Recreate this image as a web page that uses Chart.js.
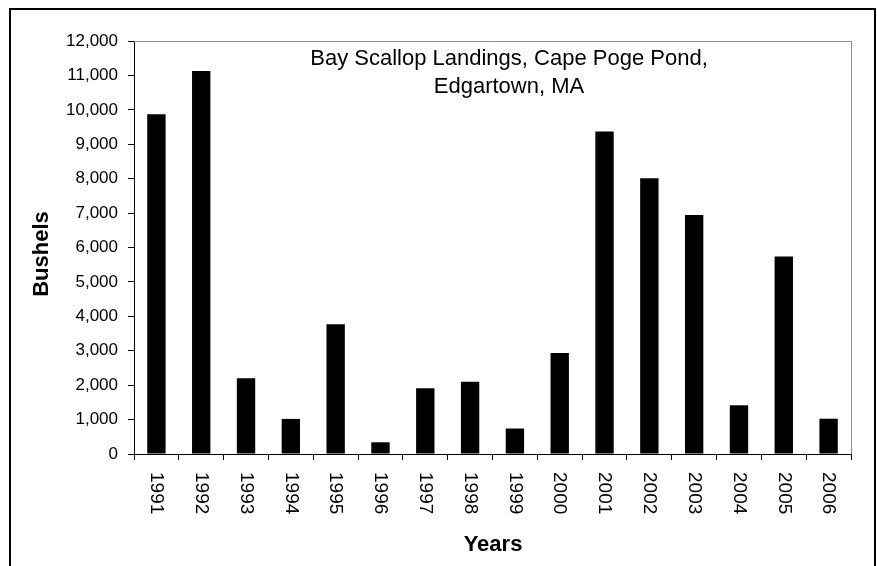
<!DOCTYPE html>
<html>
<head>
<meta charset="utf-8">
<script src="https://cdn.jsdelivr.net/npm/chart.js@4/dist/chart.umd.min.js"></script>
<style>
  html, body { margin: 0; padding: 0; background: #fff; }
  #wrap { width: 877px; height: 566px; position: relative; }
</style>
</head>
<body>
<div id="wrap"><canvas id="c" width="877" height="566"></canvas></div>
<script>
const years = ["1991","1992","1993","1994","1995","1996","1997","1998","1999","2000","2001","2002","2003","2004","2005","2006"];
const bushels = [9870, 11130, 2200, 1020, 3770, 340, 1910, 2100, 740, 2935, 9370, 8010, 6945, 1415, 5735, 1025];
const titleLines = ["Bay Scallop Landings, Cape Poge Pond,", "Edgartown, MA"];
const yTitle = "Bushels";
const xTitle = "Years";

const FONT = "'Liberation Sans', Arial, sans-serif";

const decor = {
  id: 'decor',
  afterDraw(chart) {
    const ctx = chart.ctx;
    const a = chart.chartArea;
    const xs = chart.scales.x;
    ctx.save();
    // plot area top/right border (gray)
    ctx.strokeStyle = '#8c8c8c';
    ctx.lineWidth = 1;
    ctx.beginPath();
    ctx.moveTo(a.left, a.top + 0.5);
    ctx.lineTo(a.right + 0.5, a.top + 0.5);
    ctx.lineTo(a.right + 0.5, a.bottom);
    ctx.stroke();
    // outer frame
    ctx.strokeStyle = '#000';
    ctx.lineWidth = 2;
    ctx.strokeRect(10, 9, 865, 620);
    // title
    ctx.fillStyle = '#000';
    ctx.font = "22px " + FONT;
    ctx.textAlign = 'center';
    ctx.textBaseline = 'alphabetic';
    ctx.fillText(titleLines[0], 509, 65);
    ctx.fillText(titleLines[1], 509, 93);
    // x title
    ctx.font = "bold 22px " + FONT;
    ctx.fillText(xTitle, 493, 551);
    // y title
    ctx.save();
    ctx.translate(42, 254);
    ctx.rotate(-Math.PI / 2);
    ctx.textBaseline = 'middle';
    ctx.fillText(yTitle, 0, 0);
    ctx.restore();
    // x tick labels, rotated clockwise
    ctx.font = "19px " + FONT;
    years.forEach((lab, i) => {
      const x = xs.getPixelForValue(i);
      ctx.save();
      ctx.translate(x, 472);
      ctx.rotate(Math.PI / 2);
      ctx.textAlign = 'left';
      ctx.textBaseline = 'middle';
      ctx.fillText(lab, 0, 0);
      ctx.restore();
    });
    ctx.restore();
  }
};

new Chart(document.getElementById('c'), {
  type: 'bar',
  data: {
    labels: years,
    datasets: [{
      data: bushels,
      backgroundColor: '#000',
      borderWidth: 0,
      barPercentage: 0.41,
      categoryPercentage: 1.0
    }]
  },
  options: {
    responsive: false,
    animation: false,
    events: [],
    layout: { padding: { top: 41, right: 26, left: 0, bottom: 0 } },
    plugins: { legend: { display: false }, tooltip: { enabled: false }, title: { display: false } },
    scales: {
      x: {
        offset: true,
        grid: { display: true, drawOnChartArea: false, drawTicks: true, tickLength: 6, tickColor: '#000', offset: true },
        border: { display: true, color: '#000', width: 1 },
        ticks: { display: false },
        afterFit(s) { s.height = 112; }
      },
      y: {
        min: 0, max: 12000,
        grid: { display: true, drawOnChartArea: false, drawTicks: true, tickLength: 6, tickColor: '#000' },
        border: { display: true, color: '#000', width: 1 },
        ticks: {
          stepSize: 1000,
          color: '#000',
          padding: 10,
          font: { family: FONT, size: 17 },
          callback: v => v.toLocaleString('en-US')
        },
        afterFit(s) { s.width = 134; }
      }
    }
  },
  plugins: [decor]
});
</script>
</body>
</html>
